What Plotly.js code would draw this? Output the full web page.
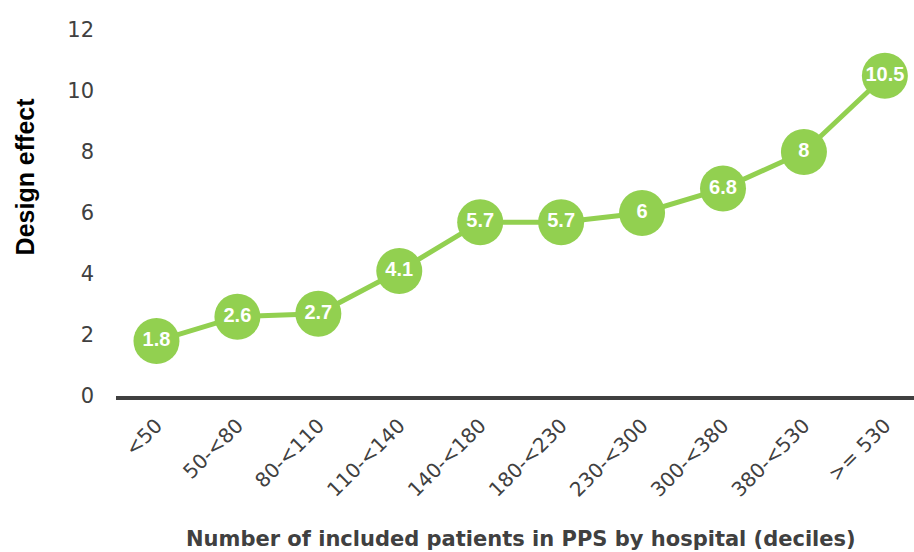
<!DOCTYPE html>
<html><head><meta charset="utf-8">
<script src="https://cdn.plot.ly/plotly-3.0.1.min.js"></script>
<style>body{margin:0;background:#fff}#chart{width:914px;height:552px}</style>
</head><body><div id="chart"></div>
<script>
const categories = ["<50","50-<80","80-<110","110-<140","140-<180","180-<230","230-<300","300-<380","380-<530",">= 530"];
const designEffect = [1.8, 2.6, 2.7, 4.1, 5.7, 5.7, 6, 6.8, 8, 10.5];
const yTicks = [0, 2, 4, 6, 8, 10, 12];
const xTitle = 'Number of included patients in PPS by hospital (deciles)';
const yTitle = 'Design effect';

const trace = {
  x: categories, y: designEffect, type: 'scatter', mode: 'lines+markers+text',
  line: {color: '#92d050', width: 5},
  marker: {color: '#92d050', size: 46, line: {width: 0}},
  text: designEffect.map(String), textposition: 'middle center',
  textfont: {color: '#ffffff', size: 20, family: 'Liberation Sans Narrow, Arial Narrow, Liberation Sans', weight: 'bold'},
  cliponaxis: false, hoverinfo: 'none'
};
const layout = {
  width: 914, height: 552,
  margin: {l: 116, r: 0, t: 30, b: 156},
  paper_bgcolor: '#fff', plot_bgcolor: '#fff',
  showlegend: false,
  xaxis: {
    type: 'category', range: [-0.5, 9.36],
    showgrid: false, zeroline: false,
    showline: true, linecolor: '#404040', linewidth: 4,
    ticks: '', tickangle: -45, ticklabelstandoff: 6,
    tickfont: {family: 'DejaVu Sans, Verdana, sans-serif', size: 20, color: '#404040'}
  },
  yaxis: {
    range: [0, 12], tickvals: yTicks, showgrid: false, zeroline: false, showline: false,
    ticks: '', ticklabelstandoff: 21,
    tickfont: {family: 'DejaVu Sans, Verdana, sans-serif', size: 21, color: '#404040'}
  },
  annotations: [
    {text: xTitle, xref: 'paper', yref: 'paper', x: 0.508, y: -0.39, xanchor: 'center', yanchor: 'middle', showarrow: false,
     font: {family: 'DejaVu Sans, Verdana, sans-serif', size: 21, color: '#404040', weight: 'bold'}},
    {text: yTitle, xref: 'paper', yref: 'paper', x: -0.114, y: 0.6, xanchor: 'center', yanchor: 'middle', showarrow: false, textangle: -90,
     font: {family: 'Liberation Sans, Arial, sans-serif', size: 25, color: '#000', weight: 'bold'}}
  ]
};
Plotly.newPlot('chart', [trace], layout, {staticPlot: true, displayModeBar: false});
</script></body></html>
